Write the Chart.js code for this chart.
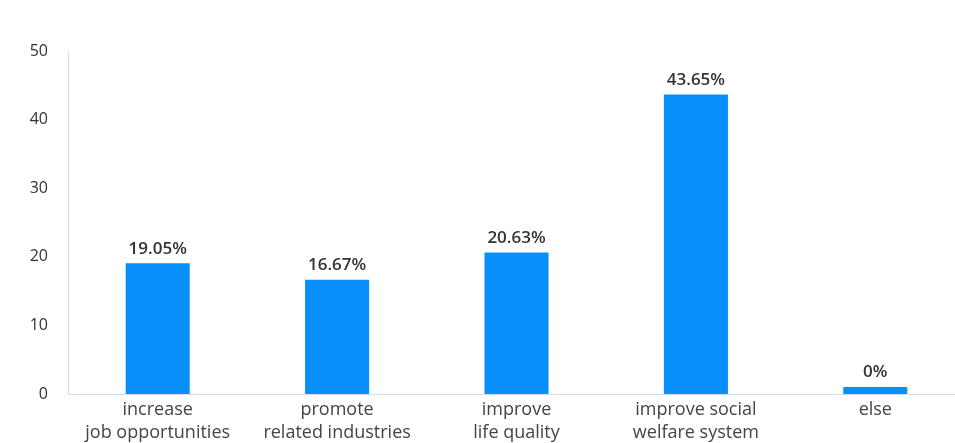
<!DOCTYPE html>
<html>
<head>
<meta charset="utf-8">
<script src="https://cdn.jsdelivr.net/npm/chart.js@4"></script>
<style>
  html, body { margin: 0; padding: 0; background: #fff; overflow: hidden; }
  #wrap { width: 980px; height: 470px; }
</style>
</head>
<body>
<div id="wrap"><canvas id="grafico" width="980" height="470"></canvas></div>
<script>
// datos del grafico
const categorias = [
  ['increase', 'job opportunities'],
  ['promote', 'related industries'],
  ['improve', 'life quality'],
  ['improve social', 'welfare system'],
  'else'
];
const porcentajes = [19.05, 16.67, 20.63, 43.65, 0];
const ticksY = [0, 10, 20, 30, 40, 50];

// etiquetas de porcentaje sobre cada barra
const etiquetasBarras = {
  id: 'etiquetasBarras',
  afterDatasetsDraw(chart) {
    const ctx = chart.ctx;
    const meta = chart.getDatasetMeta(0);
    ctx.save();
    ctx.font = '600 17px "Open Sans", "Noto Sans", sans-serif';
    ctx.fillStyle = '#333';
    ctx.textAlign = 'center';
    ctx.textBaseline = 'bottom';
    meta.data.forEach((bar, i) => {
      ctx.fillText(porcentajes[i] + '%', bar.x, bar.y - 6);
    });
    ctx.restore();
  }
};

const ctx = document.getElementById('grafico').getContext('2d');
new Chart(ctx, {
  type: 'bar',
  data: {
    labels: categorias,
    datasets: [{
      data: porcentajes,
      backgroundColor: '#0790f9',
      borderWidth: 0,
      barPercentage: 0.357,
      categoryPercentage: 1,
      minBarLength: 7
    }]
  },
  options: {
    responsive: false,
    animation: false,
    layout: { padding: { top: 51, right: 15, left: 0, bottom: 0 } },
    plugins: {
      legend: { display: false },
      tooltip: { enabled: false }
    },
    scales: {
      y: {
        min: 0,
        max: 50,
        afterBuildTicks(axis) {
          axis.ticks = ticksY.map(v => ({ value: v }));
        },
        afterFit(axis) { axis.width = 68; },
        grid: { display: false, drawTicks: false },
        border: { display: true, color: '#d3dcf0', width: 1 },
        ticks: {
          padding: 20,
          color: '#333',
          font: { family: '"Open Sans", "Noto Sans", sans-serif', size: 16 }
        }
      },
      x: {
        afterFit(axis) { axis.height = 76; },
        grid: { display: false, drawTicks: false },
        border: { display: true, color: '#d3dcf0', width: 1 },
        ticks: {
          padding: 4,
          color: '#444',
          maxRotation: 0,
          autoSkip: false,
          font: { family: '"Open Sans", "Noto Sans", sans-serif', size: 18, lineHeight: 1.3 }
        }
      }
    }
  },
  plugins: [etiquetasBarras]
});
</script>
</body>
</html>
